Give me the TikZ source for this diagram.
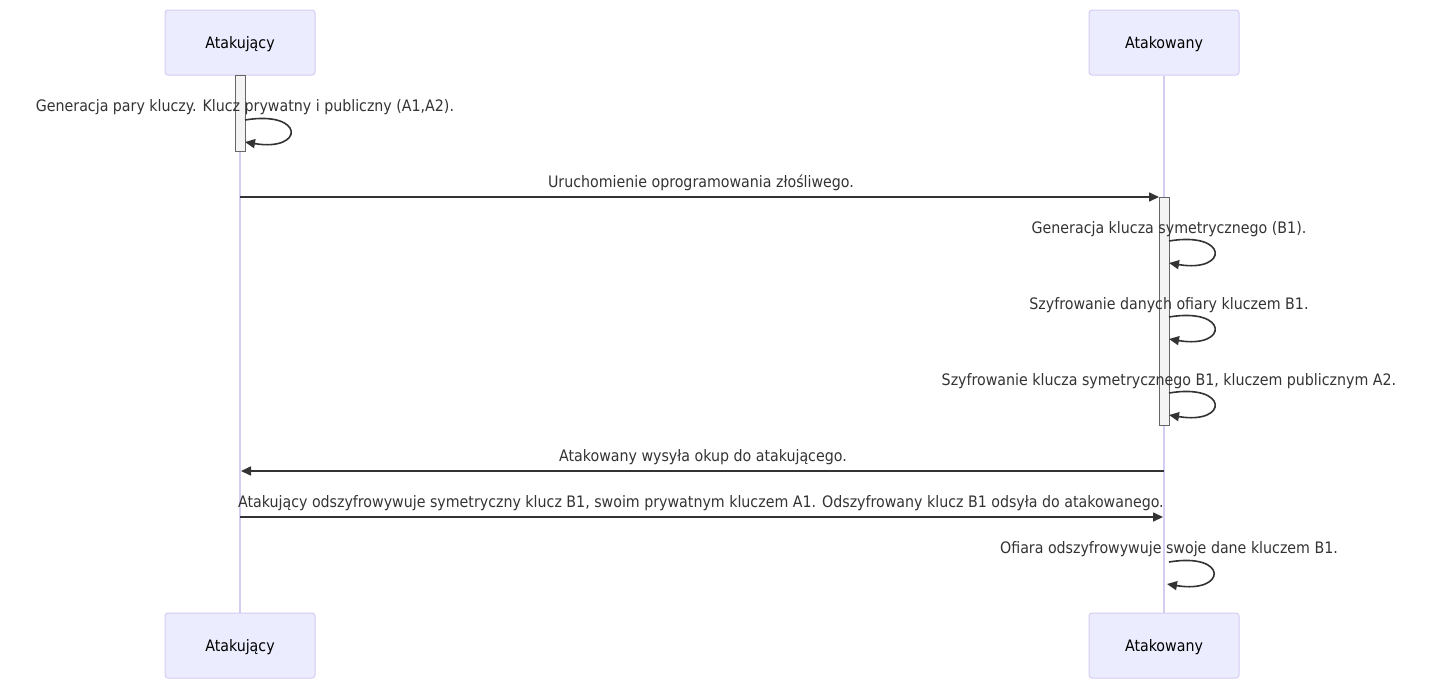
\documentclass[tikz,border=0pt]{standalone}
\usepackage{fontspec}
\setmainfont{DejaVu Sans Condensed}
\usetikzlibrary{arrows.meta,calc}
\definecolor{actfill}{HTML}{ECECFF}
\definecolor{actline}{HTML}{D6CCF2}
\definecolor{msgline}{HTML}{333333}
\definecolor{actvfill}{HTML}{F4F4F4}
\definecolor{actvline}{HTML}{666666}
\tikzset{
  actor/.style={draw=actline, fill=actfill, line width=1pt, rounded corners=3pt,
    minimum width=150pt, minimum height=65pt, inner sep=0pt, font=\fontsize{15.8}{19}\selectfont,
    text=black, text height=11.5pt, text depth=0pt},
  life/.style={draw=actline, line width=2pt},
  activ/.style={draw=actvline, fill=actvfill, line width=1pt, minimum width=10pt, inner sep=0pt},
  msg/.style={draw=msgline, line width=1.6pt, -{Triangle[length=10pt,width=9pt]}},
  lbl/.style={anchor=base, inner sep=0pt, text=msgline, font=\fontsize{15.8}{19}\selectfont},
}
\begin{document}
\begin{tikzpicture}[x=1pt,y=-1pt]
\useasboundingbox (0,0) rectangle (1429,689);
% actors
\node[actor] (aTop) at (240,42.5) {Atakujący};
\node[actor] (bTop) at (1164,42.5) {Atakowany};
\node[actor] (aBot) at (240,645.5) {Atakujący};
\node[actor] (bBot) at (1164,645.5) {Atakowany};
% lifelines
\draw[life] (aTop.south) -- (aBot.north);
\draw[life] (bTop.south) -- (bBot.north);
% activations
\node[activ, minimum height=76pt] (actA) at (240,113) {};
\node[activ, minimum height=228pt] (actB) at (1164,311) {};
% loop 1 (left)
\coordinate (l1s) at (245,120);
\coordinate (l1e) at (245,142);
\node[lbl] (t1) at (245,111) {Generacja pary kluczy. Klucz prywatny i publiczny (A1,A2).};
\draw[msg] (l1s) .. controls ($(l1s)+(60,-10)$) and ($(l1e)+(60,10)$) .. (l1e);
% message 1
\coordinate (m1s) at (240,197);
\coordinate (m1e) at (1159,197);
\node[lbl] (t2) at (701,187) {Uruchomienie oprogramowania złośliwego.};
\draw[msg] (m1s) -- (m1e);
% loop 2
\coordinate (l2s) at (1169,241);
\coordinate (l2e) at (1169,263);
\node[lbl] (t3) at (1169,233) {Generacja klucza symetrycznego (B1).};
\draw[msg] (l2s) .. controls ($(l2s)+(60,-10)$) and ($(l2e)+(60,10)$) .. (l2e);
% loop 3
\coordinate (l3s) at (1169,317);
\coordinate (l3e) at (1169,339);
\node[lbl] (t4) at (1169,309) {Szyfrowanie danych ofiary kluczem B1.};
\draw[msg] (l3s) .. controls ($(l3s)+(60,-10)$) and ($(l3e)+(60,10)$) .. (l3e);
% loop 4
\coordinate (l4s) at (1169,393);
\coordinate (l4e) at (1169,415);
\node[lbl] (t5) at (1169,385) {Szyfrowanie klucza symetrycznego B1, kluczem publicznym A2.};
\draw[msg] (l4s) .. controls ($(l4s)+(60,-10)$) and ($(l4e)+(60,10)$) .. (l4e);
% message 5
\coordinate (m5s) at (1164,471);
\coordinate (m5e) at (241,471);
\node[lbl] (t6) at (703,461) {Atakowany wysyła okup do atakującego.};
\draw[msg] (m5s) -- (m5e);
% message 6
\coordinate (m6s) at (240,517);
\coordinate (m6e) at (1163,517);
\node[lbl] (t7) at (701,507) {Atakujący odszyfrowywuje symetryczny klucz B1, swoim prywatnym kluczem A1. Odszyfrowany klucz B1 odsyła do atakowanego.};
\draw[msg] (m6s) -- (m6e);
% loop 7
\coordinate (l7s) at (1169,562);
\coordinate (l7e) at (1167,584);
\node[lbl] (t8) at (1169,553) {Ofiara odszyfrowywuje swoje dane kluczem B1.};
\draw[msg] (l7s) .. controls ($(l7s)+(60,-10)$) and ($(l7e)+(60,10)$) .. (l7e);
\end{tikzpicture}
\end{document}
